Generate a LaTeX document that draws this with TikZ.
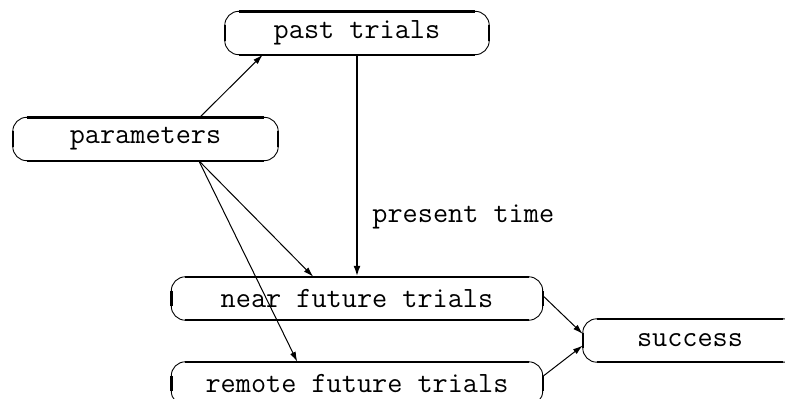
\documentclass[tikz,border=0pt]{standalone}
\usepackage{fontspec}
\usetikzlibrary{arrows.meta}

% Oval frame in the style of the picture environment: thick straight sides, thin corner arcs.
% The y axis points down, so arc angles run clockwise on the page.
\newcommand\ovalframe[1]{%
  \draw[heavy] ([xshift=14pt]#1.north west) -- ([xshift=-14pt]#1.north east);
  \draw[heavy] ([xshift=14pt]#1.south west) -- ([xshift=-14pt]#1.south east);
  \draw[heavy] ([yshift=-14pt]#1.north west) -- ([yshift=14pt]#1.south west);
  \draw[heavy] ([yshift=-14pt]#1.north east) -- ([yshift=14pt]#1.south east);
  \draw[light] ([xshift=14pt]#1.north west) arc[start angle=-90,end angle=-180,radius=14];
  \draw[light] ([yshift=14pt]#1.south west) arc[start angle=180,end angle=90,radius=14];
  \draw[light] ([xshift=-14pt]#1.south east) arc[start angle=90,end angle=0,radius=14];
  \draw[light] ([yshift=-14pt]#1.north east) arc[start angle=0,end angle=-90,radius=14];
}

\tikzset{
  heavy/.style={line width=2.4pt},
  light/.style={line width=0.9pt},
  labelfont/.style={font=\fontsize{29.4}{35}\selectfont\ttfamily},
  ovalbox/.style={rectangle, inner sep=0pt, minimum height=43pt, labelfont},
  link/.style={line width=1pt, -{Latex[length=10pt,width=6pt]}},
  mainlink/.style={line width=2.9pt, -{Latex[length=11pt,width=7pt]}},
}

\begin{document}
\begin{tikzpicture}[x=1pt,y=-1pt]
  \useasboundingbox (0,0) rectangle (785,399);
  \clip (0,0) rectangle (785,399);

  \node[ovalbox, minimum width=264pt] (past)    at (357,33)    {past trials};
  \node[ovalbox, minimum width=265pt] (params)  at (145.5,139) {parameters};
  \node[ovalbox, minimum width=371pt] (near)    at (357,298.5) {near future trials};
  \node[ovalbox, minimum width=371pt] (remote)  at (357,383.5) {remote future trials};
  \node[ovalbox, minimum width=214pt] (success) at (690,340.5) {success};

  \ovalframe{past}
  \ovalframe{params}
  \ovalframe{near}
  \ovalframe{remote}
  \ovalframe{success}

  \draw[link] ([xshift=187pt]params.north west) -- ([xshift=38pt]past.south west);
  \draw[mainlink] (past.south) -- node[pos=0.73, anchor=west, xshift=14pt, inner sep=0pt,
      labelfont] (now) {present time} (near.north);
  \draw[link] ([xshift=186pt]params.south west) -- ([xshift=142pt]near.north west);
  \draw[link] ([xshift=186pt]params.south west) -- ([xshift=126pt]remote.north west);
  \draw[link] ([yshift=3pt]near.east) -- ([yshift=6.5pt]success.west);
  \draw[link] ([yshift=7pt]remote.east) -- ([yshift=-5pt]success.west);
\end{tikzpicture}
\end{document}
